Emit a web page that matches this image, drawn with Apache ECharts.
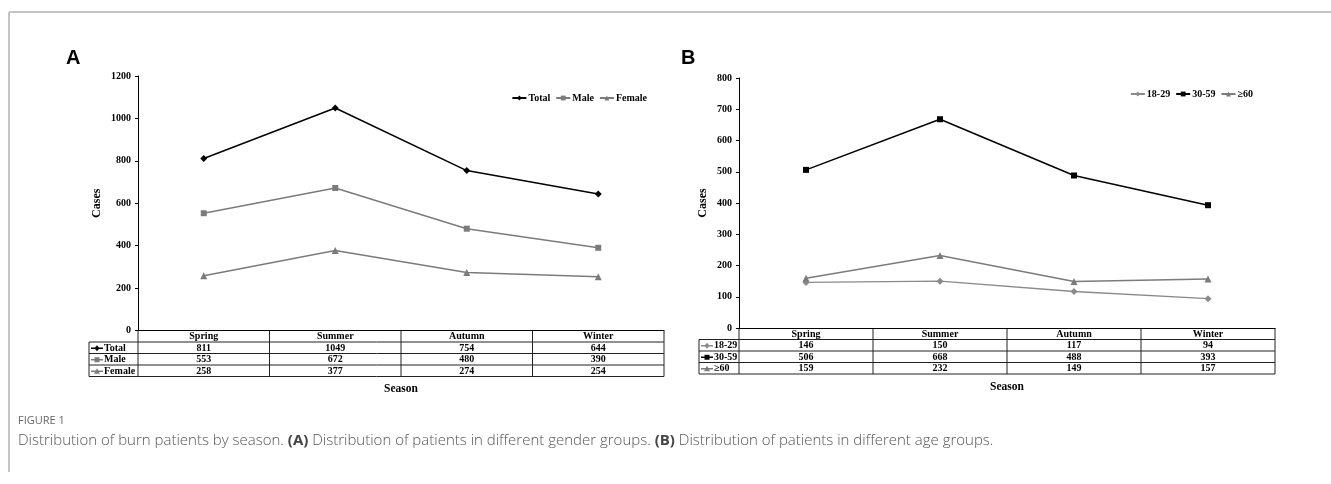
<!DOCTYPE html>
<html>
<head>
<meta charset="utf-8">
<script src="https://cdn.jsdelivr.net/npm/echarts@6/dist/echarts.min.js"></script>
<style>
    html, body { margin: 0; padding: 0; background: #fff; }
    #main { width: 1331px; height: 484px; }
</style>
</head>
<body>
<div id="main"></div>
<script>
// data
var seasons = ['Spring', 'Summer', 'Autumn', 'Winter'];
var totalCases = [811, 1049, 754, 644];
var maleCases = [553, 672, 480, 390];
var femaleCases = [258, 377, 274, 254];
var age18to29 = [146, 150, 117, 94];
var age30to59 = [506, 668, 488, 393];
var age60plus = [159, 232, 149, 157];
var yTicksA = [0, 200, 400, 600, 800, 1000, 1200];
var yTicksB = [0, 100, 200, 300, 400, 500, 600, 700, 800];

var serif = '"Liberation Serif", "DejaVu Serif", serif';
var gray = '#7b7b7b';

var groupA = [
    { name: 'Total', data: totalCases, color: '#000', symbol: 'diamond' },
    { name: 'Male', data: maleCases, color: gray, symbol: 'rect' },
    { name: 'Female', data: femaleCases, color: gray, symbol: 'triangle' }
];
var groupB = [
    { name: '18-29', data: age18to29, color: '#8a8a8a', symbol: 'diamond' },
    { name: '30-59', data: age30to59, color: '#000', symbol: 'rect' },
    { name: '≥60', data: age60plus, color: gray, symbol: 'triangle' }
];

var myChart = echarts.init(document.getElementById('main'));

function $each(arr, fn) { for (var i = 0; i < arr.length; i++) fn(arr[i], i); }

function makeY(idx, ticks) {
    return {
        type: 'value', gridIndex: idx,
        min: ticks[0], max: ticks[ticks.length - 1],
        interval: ticks[1] - ticks[0],
        name: 'Cases', nameLocation: 'middle', nameGap: idx === 0 ? 35 : 30,
        nameTextStyle: { fontFamily: serif, fontWeight: 'bold', fontSize: 12, color: '#000' },
        axisLine: { show: true, lineStyle: { color: '#000', width: 1 } },
        axisTick: { show: true, length: 3, lineStyle: { color: '#000' } },
        axisLabel: {
            fontFamily: serif, fontWeight: 'bold', fontSize: 10, color: '#000', margin: 7,
            formatter: function (v) { return String(v); }
        },
        splitLine: { show: false }
    };
}
function makeX(idx) {
    return {
        type: 'category', gridIndex: idx, data: seasons, boundaryGap: true,
        axisLine: { show: true, onZero: false, lineStyle: { color: '#000', width: 1 } },
        axisTick: { show: false },
        axisLabel: { show: false },
        splitLine: { show: false }
    };
}
function makeSeries(group, idx) {
    var out = [];
    $each(group, function (g) {
        out.push({
            name: g.name, type: 'line', xAxisIndex: idx, yAxisIndex: idx,
            data: g.data, symbol: g.symbol, symbolSize: g.symbol === 'rect' ? 6 : 7,
            lineStyle: { color: g.color, width: 1.5 },
            itemStyle: { color: g.color },
            animation: false
        });
    });
    return out;
}
var legendText = { fontFamily: serif, fontWeight: 'bold', fontSize: 10, color: '#000', padding: [0, 0, 0, -3] };

var option = {
    backgroundColor: '#fff',
    animation: false,
    grid: [
        { left: 138, top: 76, width: 526, height: 254.5 },
        { left: 739, top: 78, width: 536, height: 250 }
    ],
    legend: [
        {
            data: groupA.map(function (g) { return g.name; }),
            right: 679, top: 88, itemWidth: 14, itemHeight: 6, itemGap: 5,
            textStyle: legendText
        },
        {
            data: groupB.map(function (g) { return g.name; }),
            right: 73, top: 84, itemWidth: 14, itemHeight: 6, itemGap: 5,
            textStyle: legendText
        }
    ],
    xAxis: [makeX(0), makeX(1)],
    yAxis: [makeY(0, yTicksA), makeY(1, yTicksB)],
    series: makeSeries(groupA, 0).concat(makeSeries(groupB, 1))
};
myChart.setOption(option);

// data table under each plot, placed with the chart's own scales
function buildTable(idx, group, tableLeft) {
    var els = [];
    var c0 = myChart.convertToPixel({ xAxisIndex: idx }, seasons[0]);
    var c1 = myChart.convertToPixel({ xAxisIndex: idx }, seasons[1]);
    var w = c1 - c0;
    var plotLeft = c0 - w / 2;
    var plotRight = plotLeft + w * seasons.length;
    var y0 = myChart.convertToPixel({ yAxisIndex: idx }, 0);
    var rowH = 11.5;
    var nRows = group.length + 1;
    var lineStyle = { stroke: '#222', lineWidth: 1 };
    var txt = function (t, x, y, align) {
        return {
            type: 'text', silent: true,
            style: { text: t, x: x, y: y, align: align || 'center', verticalAlign: 'middle',
                fontFamily: serif, fontWeight: 'bold', fontSize: 10, fill: '#000' }
        };
    };
    for (var k = 1; k <= nRows; k++) {
        var yy = y0 + k * rowH;
        els.push({ type: 'line', silent: true, shape: { x1: tableLeft, y1: yy, x2: plotRight, y2: yy }, style: lineStyle });
    }
    for (var c = 0; c <= seasons.length; c++) {
        var xx = plotLeft + c * w;
        els.push({ type: 'line', silent: true, shape: { x1: xx, y1: y0, x2: xx, y2: y0 + nRows * rowH }, style: lineStyle });
    }
    els.push({ type: 'line', silent: true, shape: { x1: tableLeft, y1: y0 + rowH, x2: tableLeft, y2: y0 + nRows * rowH }, style: lineStyle });
    $each(seasons, function (s, i) {
        els.push(txt(s, plotLeft + (i + 0.5) * w, y0 + rowH / 2 + 0.5));
    });
    $each(group, function (g, r) {
        var cy = y0 + (r + 1.5) * rowH + 0.5;
        $each(g.data, function (v, i) {
            els.push(txt(String(v), plotLeft + (i + 0.5) * w, cy));
        });
        // row key: line with marker
        var ix = tableLeft + 8;
        els.push({ type: 'line', silent: true, shape: { x1: tableLeft + 2, y1: cy, x2: tableLeft + 14, y2: cy }, style: { stroke: g.color, lineWidth: 1.5 } });
        var m;
        if (g.symbol === 'rect') {
            m = { type: 'rect', shape: { x: ix - 2.5, y: cy - 2.5, width: 5, height: 5 } };
        } else if (g.symbol === 'diamond') {
            m = { type: 'polygon', shape: { points: [[ix, cy - 3], [ix + 2.5, cy], [ix, cy + 3], [ix - 2.5, cy]] } };
        } else {
            m = { type: 'polygon', shape: { points: [[ix, cy - 3], [ix + 3, cy + 2.5], [ix - 3, cy + 2.5]] } };
        }
        m.silent = true;
        m.style = { fill: g.color };
        els.push(m);
        els.push(txt(g.name, tableLeft + 15, cy, 'left'));
    });
    els.push({
        type: 'text', silent: true,
        style: { text: 'Season', x: (plotLeft + plotRight) / 2, y: y0 + nRows * rowH + 13, align: 'center', verticalAlign: 'middle',
            fontFamily: serif, fontWeight: 'bold', fontSize: 11.5, fill: '#000' }
    });
    return els;
}

var frameStyle = { stroke: '#c4c4c4', lineWidth: 2 };
var capFont = '"Open Sans", "Noto Sans", sans-serif';
var graphics = [
    { type: 'line', silent: true, shape: { x1: 9, y1: 12, x2: 1331, y2: 12 }, style: frameStyle },
    { type: 'line', silent: true, shape: { x1: 9, y1: 12, x2: 9, y2: 472 }, style: frameStyle },
    { type: 'text', silent: true, style: { text: 'A', x: 66, y: 58, verticalAlign: 'middle', fontFamily: '"Liberation Sans", Arial, sans-serif', fontWeight: 'bold', fontSize: 20, fill: '#000' } },
    { type: 'text', silent: true, style: { text: 'B', x: 681, y: 58, verticalAlign: 'middle', fontFamily: '"Liberation Sans", Arial, sans-serif', fontWeight: 'bold', fontSize: 20, fill: '#000' } },
    { type: 'text', silent: true, style: { text: 'FIGURE 1', x: 18, y: 421, verticalAlign: 'middle', fontFamily: capFont, fontSize: 11, fill: '#666' } },
    {
        type: 'text', silent: true,
        style: {
            text: '{n|Distribution of burn patients by season. }{b|(A)}{n| Distribution of patients in different gender groups. }{b|(B)}{n| Distribution of patients in different age groups.}',
            x: 18, y: 441, verticalAlign: 'middle',
            rich: {
                n: { fontFamily: capFont, fontSize: 15, fill: '#555', fontWeight: 300 },
                b: { fontFamily: capFont, fontSize: 15, fill: '#444', fontWeight: 'bold' }
            }
        }
    }
];
graphics = graphics.concat(buildTable(0, groupA, 89)).concat(buildTable(1, groupB, 699));
myChart.setOption({ graphic: graphics });
</script>
</body>
</html>
